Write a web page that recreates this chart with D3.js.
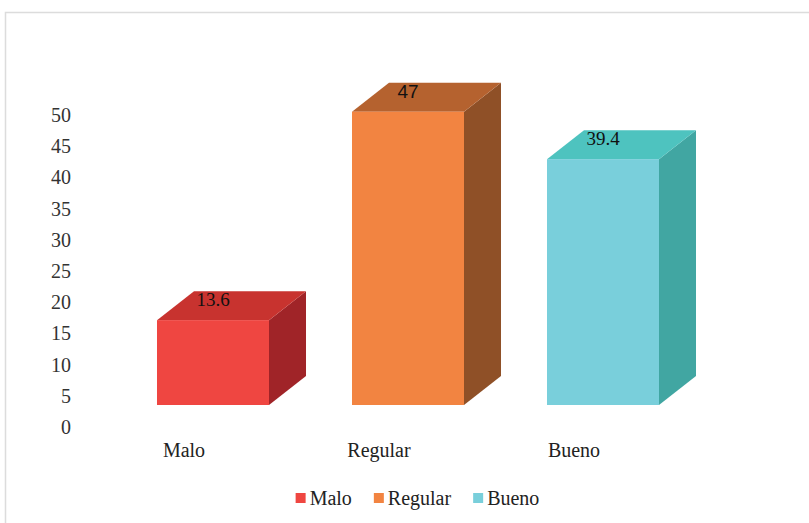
<!DOCTYPE html>
<html>
<head>
<meta charset="utf-8">
<script src="https://cdn.jsdelivr.net/npm/d3@7"></script>
<style>
  html, body { margin: 0; padding: 0; background: #ffffff; }
  svg { display: block; }
</style>
</head>
<body>
<svg id="chart" width="809" height="523"></svg>
<script>
// Chart data
const categories = ["Malo", "Regular", "Bueno"];
const values = [13.6, 47, 39.4];
const valueLabels = ["13.6", "47", "39.4"];
const yTicks = [0, 5, 10, 15, 20, 25, 30, 35, 40, 45, 50];

// Face colours per category: front, top, side
const frontColors = ["#ef4641", "#f28441", "#79cfdb"];
const topColors = ["#c8332f", "#b5622f", "#4ec3bf"];
const sideColors = ["#a02428", "#8f5027", "#41a6a2"];

const SERIF = "'Liberation Serif', 'Times New Roman', serif";
const SANS = "'Liberation Sans', Arial, sans-serif";

const svg = d3.select("#chart");

// Outer frame
svg.append("rect")
  .attr("x", 5.5).attr("y", 12.5)
  .attr("width", 900).attr("height", 600)
  .attr("fill", "none")
  .attr("stroke", "#dcdcdc")
  .attr("stroke-width", 1.5);

const y = d3.scaleLinear().domain([0, 50]).range([427, 115]);
const x = d3.scaleBand().domain(categories)
  .range([115.5, 700.5])
  .paddingInner(0.4256)
  .paddingOuter(0.2128);

// 3D projection offsets
const floorLift = 22;   // front faces sit above the axis floor
const depthX = 37, depthY = -29;

// Value axis
const yAxis = d3.axisLeft(y).tickValues(yTicks).tickSize(0).tickPadding(0);
const gy = svg.append("g")
  .attr("transform", "translate(71,0)")
  .call(yAxis);
gy.select(".domain").remove();
gy.selectAll("text")
  .style("font-family", SERIF)
  .style("font-size", "20px")
  .attr("fill", "#333333");

// Bars as boxes
const bw = x.bandwidth();
const bars = svg.append("g");
categories.forEach((c, i) => {
  const x0 = x(c), x1 = x0 + bw;
  const yb = y(0) - floorLift;
  const yt = y(values[i]) - floorLift;
  const g = bars.append("g");
  // side face
  g.append("path")
    .attr("d", `M${x1},${yt} L${x1 + depthX},${yt + depthY} L${x1 + depthX},${yb + depthY} L${x1},${yb} Z`)
    .attr("fill", sideColors[i]);
  // top face
  g.append("path")
    .attr("d", `M${x0},${yt} L${x0 + depthX},${yt + depthY} L${x1 + depthX},${yt + depthY} L${x1},${yt} Z`)
    .attr("fill", topColors[i]);
  // front face
  g.append("rect")
    .attr("x", x0).attr("y", yt)
    .attr("width", bw).attr("height", yb - yt)
    .attr("fill", frontColors[i]);
  // value label
  g.append("text")
    .attr("x", x0 + bw / 2)
    .attr("y", yt - 14)
    .attr("text-anchor", "middle")
    .style("font-family", valueLabels[i] === "47" ? SANS : SERIF)
    .style("font-size", "19px")
    .attr("fill", "#111111")
    .text(valueLabels[i]);
});

// Category labels on the floor
svg.append("g").selectAll("text")
  .data(categories)
  .join("text")
  .attr("x", d => x(d) + bw / 2 - 29)
  .attr("y", 457)
  .attr("text-anchor", "middle")
  .style("font-family", SERIF)
  .style("font-size", "20px")
  .attr("fill", "#222222")
  .text(d => d);

// Legend
const legend = svg.append("g");
const items = legend.selectAll("g")
  .data(categories)
  .join("g");
items.append("rect")
  .attr("width", 10).attr("height", 10)
  .attr("y", 493)
  .attr("fill", (d, i) => frontColors[i]);
items.append("text")
  .attr("x", 14).attr("y", 505)
  .style("font-family", SERIF)
  .style("font-size", "20px")
  .attr("fill", "#222222")
  .text(d => d);
let cursor = 0;
const widths = [];
items.each(function () {
  const w = 14 + d3.select(this).select("text").node().getComputedTextLength();
  widths.push(w);
});
const gap = 22;
const total = d3.sum(widths) + gap * (widths.length - 1);
const startX = 417.5 - total / 2;
items.attr("transform", (d, i) => {
  const tx = startX + cursor;
  cursor += widths[i] + gap;
  return `translate(${tx},0)`;
});
</script>
</body>
</html>
